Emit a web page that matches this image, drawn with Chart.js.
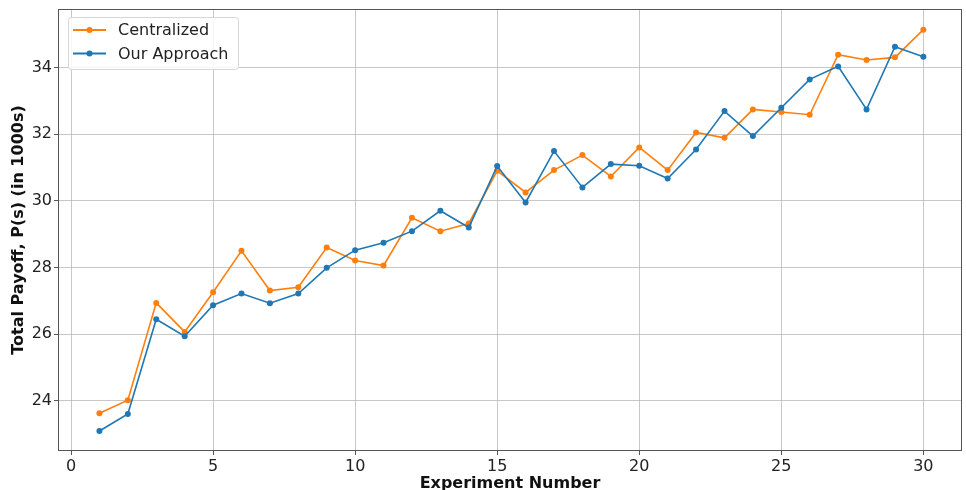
<!DOCTYPE html>
<html>
<head>
<meta charset="utf-8">
<script src="https://cdn.jsdelivr.net/npm/chart.js@4.4.0/dist/chart.umd.min.js"></script>
<style>
  html, body { margin: 0; padding: 0; background: #fff; }
  #wrap { width: 966px; height: 490px; position: relative; }
</style>
</head>
<body>
<div id="wrap"><canvas id="myChart"></canvas></div>
<script>
// experiment numbers and the two payoff series (in 1000s)
const experiments = [1, 2, 3, 4, 5, 6, 7, 8, 9, 10, 11, 12, 13, 14, 15,
    16, 17, 18, 19, 20, 21, 22, 23, 24, 25, 26, 27, 28, 29, 30];

const centralized = [23.63, 24.02, 26.94, 26.07, 27.26, 28.50, 27.31, 27.41, 28.60, 28.21,
    28.06, 29.49, 29.09, 29.32, 30.90, 30.25, 30.92, 31.37, 30.73, 31.60,
    30.92, 32.05, 31.89, 32.74, 32.66, 32.58, 34.38, 34.22, 34.30, 35.13];

const ourApproach = [23.10, 23.61, 26.45, 25.94, 26.87, 27.22, 26.93, 27.22, 27.99, 28.52,
    28.74, 29.09, 29.70, 29.20, 31.04, 29.95, 31.49, 30.40, 31.10, 31.05,
    30.67, 31.54, 32.69, 31.94, 32.79, 33.64, 34.03, 32.74, 34.62, 34.32];

const xTicks = [0, 5, 10, 15, 20, 25, 30];
const yTicks = [24, 26, 28, 30, 32, 34];

const seriesLabels = ["Centralized", "Our Approach"];
const orange = "#ff7f0e";
const blue = "#1f77b4";

const FONT = "'DejaVu Sans', sans-serif";

function toPoints(values) {
    return experiments.map((e, i) => ({ x: e, y: values[i] }));
}

// box around the plot (matplotlib spines)
const frame = {
    id: "frame",
    afterDraw(chart) {
        const ctx = chart.ctx;
        const a = chart.chartArea;
        ctx.save();
        ctx.strokeStyle = "#555";
        ctx.lineWidth = 1;
        ctx.strokeRect(a.left + 0.5, a.top + 0.5, a.right - a.left - 1, a.bottom - a.top - 1);
        ctx.restore();
    }
};

// legend in the upper left, line + marker like matplotlib
const boxLegend = {
    id: "boxLegend",
    afterDraw(chart) {
        const ctx = chart.ctx;
        const a = chart.chartArea;
        const x0 = a.left + 10, y0 = a.top + 8, w = 170, h = 52;
        ctx.save();
        ctx.beginPath();
        ctx.roundRect(x0 + 0.5, y0 + 0.5, w, h, 3);
        ctx.fillStyle = "rgba(255,255,255,0.85)";
        ctx.fill();
        ctx.strokeStyle = "#d6d6d6";
        ctx.lineWidth = 1;
        ctx.stroke();

        const items = [0, 1].map(i => chart.data.datasets[i]);
        items.forEach((ds, i) => {
            const y = y0 + 13 + i * 23.5;
            ctx.strokeStyle = ds.borderColor;
            ctx.lineWidth = 1.8;
            ctx.beginPath();
            ctx.moveTo(x0 + 5, y);
            ctx.lineTo(x0 + 38, y);
            ctx.stroke();
            ctx.fillStyle = ds.borderColor;
            ctx.beginPath();
            ctx.arc(x0 + 21.5, y, 3, 0, Math.PI * 2);
            ctx.fill();
            ctx.fillStyle = "#222";
            ctx.font = "16px " + FONT;
            ctx.textBaseline = "middle";
            ctx.textAlign = "left";
            ctx.fillText(ds.label, x0 + 50, y + 1);
        });
        ctx.restore();
    }
};

const ctx = document.getElementById("myChart").getContext("2d");

const myChart = new Chart(ctx, {
    type: "line",
    data: {
        datasets: [
            {
                label: seriesLabels[0],
                data: toPoints(centralized),
                borderColor: orange,
                backgroundColor: orange,
                borderWidth: 1.6,
                pointRadius: 3,
                pointBorderWidth: 0,
                tension: 0,
                order: 2
            },
            {
                label: seriesLabels[1],
                data: toPoints(ourApproach),
                borderColor: blue,
                backgroundColor: blue,
                borderWidth: 1.6,
                pointRadius: 3,
                pointBorderWidth: 0,
                tension: 0,
                order: 1
            }
        ]
    },
    options: {
        responsive: true,
        maintainAspectRatio: false,
        devicePixelRatio: 1,
        animation: false,
        layout: { padding: { top: 9, right: 4, left: 0, bottom: 0 } },
        plugins: {
            legend: { display: false },
            tooltip: { enabled: false }
        },
        scales: {
            x: {
                type: "linear",
                min: -0.458,
                max: 31.36,
                afterBuildTicks: s => { s.ticks = xTicks.map(v => ({ value: v })); },
                afterFit: s => { s.height = 39; s.paddingLeft = 0; s.paddingRight = 0; },
                grid: { color: "rgba(176,176,176,0.7)", lineWidth: 1, tickLength: 4, tickColor: "#555" },
                border: { display: false },
                ticks: { color: "#222", padding: 2, font: { family: FONT, size: 16 }, maxRotation: 0 },
                title: {
                    display: true,
                    text: "Experiment Number",
                    color: "#111",
                    font: { family: FONT, size: 16, weight: "bold" },
                    padding: { top: 0, bottom: -3 }
                }
            },
            y: {
                type: "linear",
                min: 22.5,
                max: 35.75,
                afterBuildTicks: s => { s.ticks = yTicks.map(v => ({ value: v })); },
                afterFit: s => { s.width = 58; s.paddingTop = 0; s.paddingBottom = 0; },
                grid: { color: "rgba(176,176,176,0.7)", lineWidth: 1, tickLength: 4, tickColor: "#555" },
                border: { display: false },
                ticks: { color: "#222", padding: 2, font: { family: FONT, size: 16 } },
                title: {
                    display: true,
                    text: "Total Payoff, P(s) (in 1000s)",
                    color: "#111",
                    font: { family: FONT, size: 16, weight: "bold" },
                    padding: { top: 9, bottom: 0 }
                }
            }
        }
    },
    plugins: [frame, boxLegend]
});
</script>
</body>
</html>
